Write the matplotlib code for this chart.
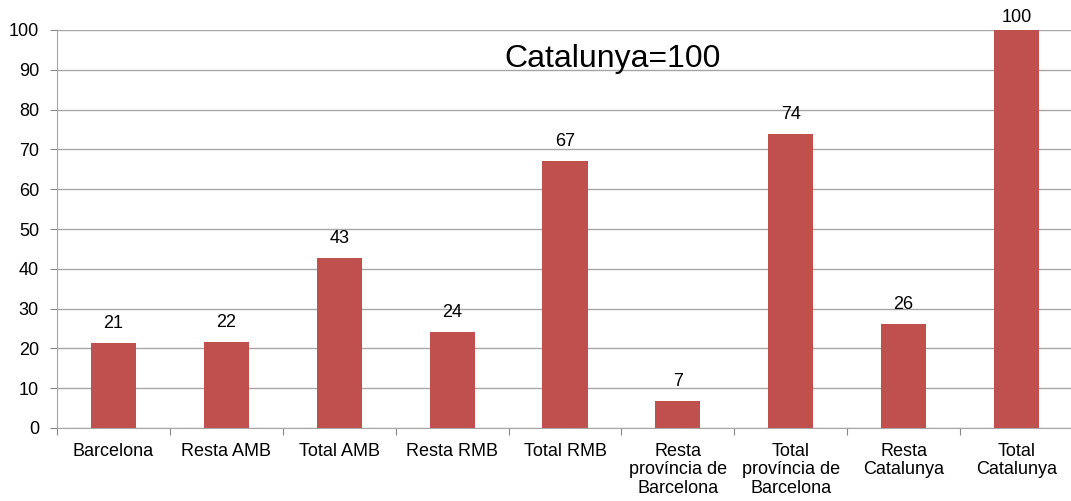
import matplotlib.pyplot as plt

plt.rcParams['font.family'] = ['Liberation Sans', 'DejaVu Sans']

categories = ['Barcelona', 'Resta AMB', 'Total AMB', 'Resta RMB', 'Total RMB',
              'Resta\nprovíncia de\nBarcelona', 'Total\nprovíncia de\nBarcelona',
              'Resta\nCatalunya', 'Total\nCatalunya']
values = [21.4, 21.5, 42.8, 24.2, 67.1, 6.7, 73.8, 26.2, 100]
labels = ['21', '22', '43', '24', '67', '7', '74', '26', '100']

fig = plt.figure(figsize=(10.71, 5.01), dpi=100)
ax = fig.add_axes([57 / 1071, 1 - 428 / 501, 1016 / 1071, 398 / 501])

x = range(len(categories))
bars = ax.bar(x, values, width=0.4, color='#C0504D', zorder=3)
for b, lab in zip(bars, labels):
    h = b.get_height()
    off = 4 if h > 95 else 11
    ax.annotate(lab, (b.get_x() + b.get_width() / 2, h),
                xytext=(0, off), textcoords='offset pixels',
                ha='center', va='bottom', fontsize=13)

ax.set_xlim(-0.5, 8.5)
ax.set_ylim(0, 100)
ax.set_yticks(range(0, 101, 10))
ax.set_xticks([i - 0.5 for i in range(10)], minor=False)
ax.set_xticklabels([])
ax.set_xticks(list(x), minor=True)
ax.set_xticklabels(categories, minor=True, fontsize=13, linespacing=1.12)
ax.tick_params(axis='x', which='minor', length=0, pad=10.5)
ax.tick_params(axis='x', which='major', length=5, color='#868686')
ax.tick_params(axis='y', length=5, color='#868686', labelsize=13, pad=8)

ax.grid(axis='y', color='#A6A6A6', linewidth=1, zorder=0)
for s in ['top', 'right']:
    ax.spines[s].set_visible(False)
ax.spines['left'].set_color('#A6A6A6')
ax.spines['bottom'].set_color('#A6A6A6')

ax.text(4.42, 90.8, 'Catalunya=100', ha='center', va='baseline', fontsize=23)

fig.savefig('out.png', dpi=100)
